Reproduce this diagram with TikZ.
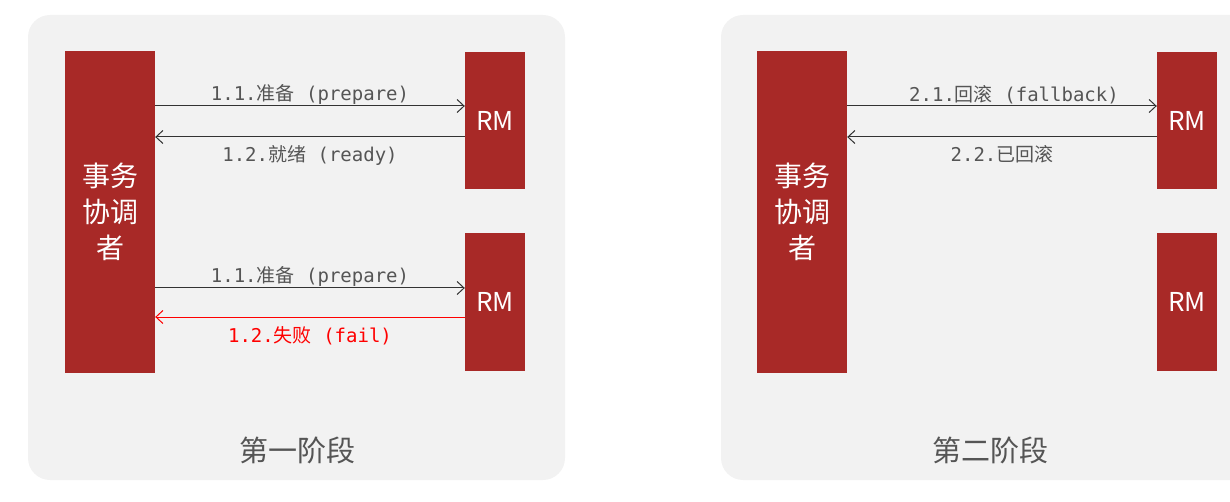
\documentclass[tikz,border=0pt]{standalone}
\usepackage{fontspec}
\setmainfont{Noto Sans CJK SC}
\setmonofont{DejaVu Sans Mono}
\newfontfamily\cjk{Noto Sans CJK SC}
\usetikzlibrary{arrows.meta}
\definecolor{boxred}{HTML}{A82927}
\definecolor{panelgray}{HTML}{F2F2F2}
\definecolor{labelgray}{HTML}{555555}
\definecolor{wire}{HTML}{333333}
\tikzset{msg/.style={wire, line width=1pt, -{Straight Barb[length=7pt,width=13pt]}},
  tc/.style={fill=boxred, text=white, minimum width=90pt, minimum height=321pt, align=center,
    font=\fontsize{28}{36}\selectfont},
  rm/.style={fill=boxred, text=white, minimum width=60pt, minimum height=137pt,
    font=\fontsize{26}{30}\selectfont},
  lbl/.style={text=labelgray, inner sep=1pt, font=\ttfamily\fontsize{19}{21}\selectfont},
  panel/.style={fill=panelgray, rounded corners=22pt},
  stage/.style={text=labelgray, font=\fontsize{29}{32}\selectfont}}

\begin{document}
\begin{tikzpicture}[x=1pt, y=-1pt]
  \clip (0,0) rectangle (1230,502);
  % two panels
  \fill[panel] (28,15) rectangle (565,480);
  \fill[panel] (721,15) rectangle (1270,480);
  % phase one
  \node[tc] (tc1) at (110,212) {事务\\协调\\者};
  \node[rm] (rm1a) at (495,121) {RM};
  \node[rm] (rm1b) at (495,302) {RM};
  \coordinate (p11) at ([yshift=15pt]rm1a.west);
  \coordinate (p12) at ([yshift=-16pt]rm1a.west);
  \coordinate (p13) at ([yshift=14pt]rm1b.west);
  \coordinate (p14) at ([yshift=-15pt]rm1b.west);
  \draw[msg] (tc1.east |- p11) -- node[lbl, above]{1.1.{\cjk 准备} (prepare)} (p11);
  \draw[msg] (p12) -- node[lbl, below=7pt]{1.2.{\cjk 就绪} (ready)} (tc1.east |- p12);
  \draw[msg] (tc1.east |- p13) -- node[lbl, above]{1.1.{\cjk 准备} (prepare)} (p13);
  \draw[msg, red] (p14) -- node[lbl, below=8pt, text=red]{1.2.{\cjk 失败} (fail)} (tc1.east |- p14);
  \node[stage] (s1) at (297,450) {第一阶段};
  % phase two
  \node[tc] (tc2) at (802,212) {事务\\协调\\者};
  \node[rm] (rm2a) at (1187,121) {RM};
  \node[rm] (rm2b) at (1187,302) {RM};
  \coordinate (p21) at ([yshift=15pt]rm2a.west);
  \coordinate (p22) at ([yshift=-16pt]rm2a.west);
  \draw[msg] (tc2.east |- p21) -- node[lbl, above, xshift=12pt]{2.1.{\cjk 回滚} (fallback)} (p21);
  \draw[msg] (p22) -- node[lbl, below=7pt]{2.2.{\cjk 已回滚}} (tc2.east |- p22);
  \node[stage] (s2) at (990,450) {第二阶段};
\end{tikzpicture}
\end{document}
